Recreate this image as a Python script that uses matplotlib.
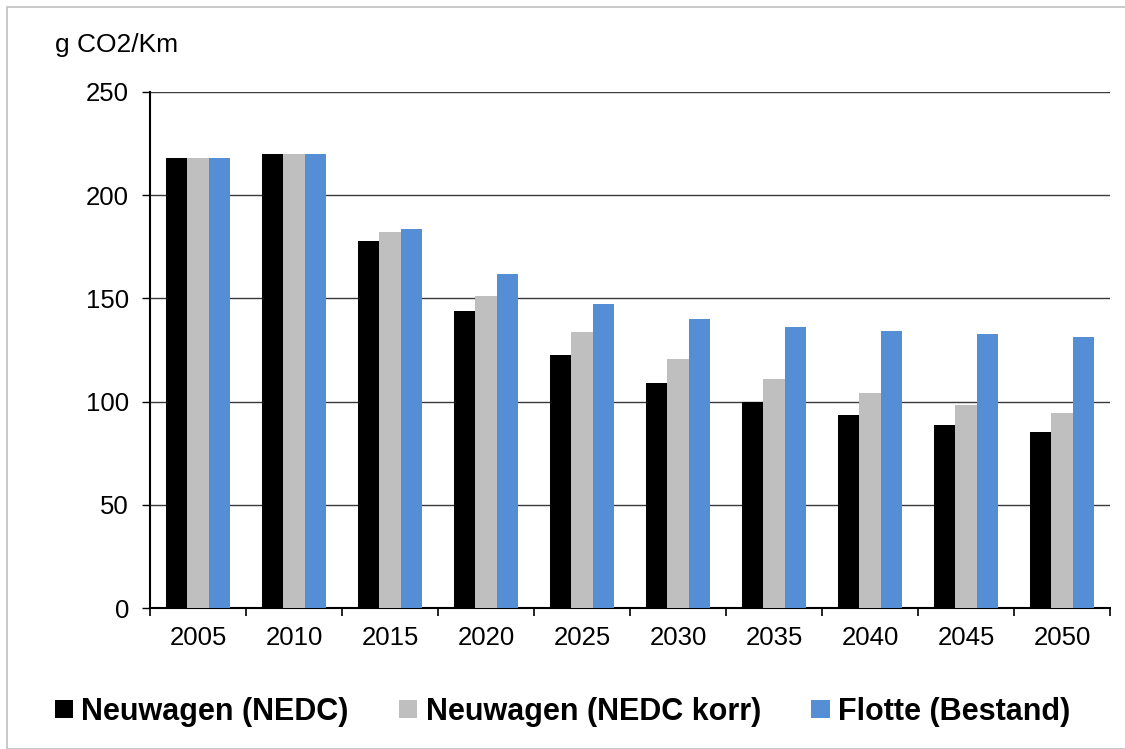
import matplotlib.pyplot as plt
import numpy as np
from matplotlib.patches import Rectangle

plt.rcParams["font.family"] = ["Liberation Sans", "DejaVu Sans"]

years = ["2005", "2010", "2015", "2020", "2025", "2030", "2035", "2040", "2045", "2050"]
nedc = [218, 220, 178, 144, 122.5, 109, 100, 93.5, 88.5, 85.5]
nedc_korr = [218, 220, 182, 151, 133.5, 120.5, 111, 104, 98.5, 94.5]
flotte = [218, 220, 183.5, 162, 147.5, 140, 136, 134, 132.8, 131.5]

series = [
    ("Neuwagen (NEDC)", nedc, "#000000"),
    ("Neuwagen (NEDC korr)", nedc_korr, "#bfbfbf"),
    ("Flotte (Bestand)", flotte, "#558ed5"),
]

fig = plt.figure(figsize=(11.25, 7.49), dpi=100)
ax = fig.add_axes([150 / 1125, 1 - 608 / 749, 960 / 1125, 516 / 749])

x = np.arange(len(years))
w = 0.224
for i, (label, vals, color) in enumerate(series):
    ax.bar(x + (i - 1) * w, vals, w, color=color, label=label, zorder=3)

ax.set_xlim(-0.5, len(years) - 0.5)
ax.set_ylim(0, 250)
ax.set_yticks(range(0, 251, 50))
ax.set_xticks(x)
ax.set_xticklabels(years)
ax.set_xticks(np.arange(-0.5, len(years), 1), minor=True)
ax.tick_params(axis="x", which="major", length=0, pad=13, labelsize=18.5)
ax.tick_params(axis="x", which="minor", length=6, width=1.2, direction="out")
ax.tick_params(axis="y", length=6, width=1, labelsize=18.5, pad=9)
ax.grid(axis="y", color="#3a3a3a", linewidth=1, zorder=0)
for s in ("top", "right"):
    ax.spines[s].set_visible(False)
for s in ("left", "bottom"):
    ax.spines[s].set_linewidth(1.5)

fig.text(55 / 1125, 1 - 45 / 749, "g CO2/Km", fontsize=19, va="center", ha="left")

handles, labels = ax.get_legend_handles_labels()
fig.legend(handles, labels, loc="center", bbox_to_anchor=(0.5, 1 - 712 / 749), ncol=3,
           frameon=False, prop={"weight": "bold", "size": 22}, handlelength=0.6,
           handleheight=0.5, handletextpad=0.27, columnspacing=1.65)

fig.patches.append(Rectangle((7 / 1125, 0), 1.2, 1 - 7 / 749, transform=fig.transFigure,
                             fill=False, edgecolor="#c0c0c0", linewidth=1.2))

fig.savefig("out.png", dpi=100)
